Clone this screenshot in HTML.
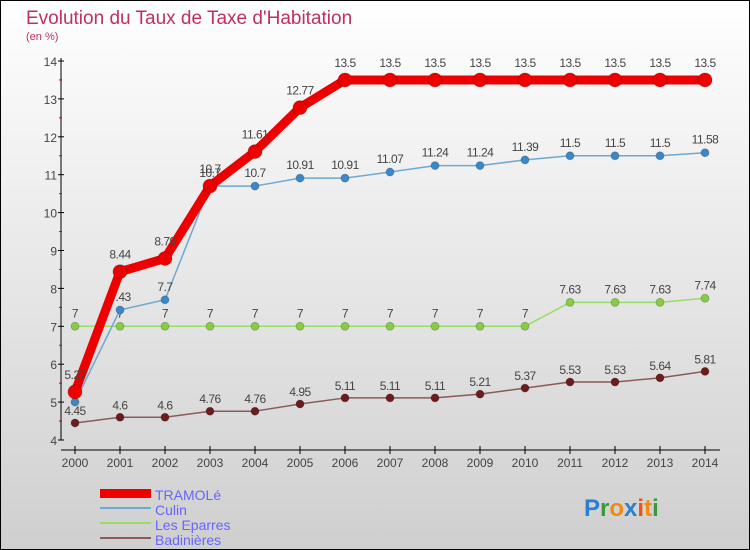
<!DOCTYPE html>
<html><head><meta charset="utf-8"><style>
body{margin:0;width:750px;height:550px;overflow:hidden}
svg{display:block}
text{font-family:"Liberation Sans",sans-serif}
</style></head><body>
<svg width="750" height="550" viewBox="0 0 750 550">
<defs><linearGradient id="bg" x1="0" y1="0" x2="0" y2="1"><stop offset="0" stop-color="#ffffff"/><stop offset="1" stop-color="#cfcfcf"/></linearGradient></defs>
<rect x="0.5" y="0.5" width="749" height="549" fill="url(#bg)" stroke="#000"/>
<text x="26" y="24" font-size="19" fill="#c0305e">Evolution du Taux de Taxe d'Habitation</text>
<text x="26" y="40" font-size="11" fill="#c0305e">(en %)</text>
<g id="axes"></g><g id="series"></g>
<g>
<rect x="100" y="489" width="51" height="9" fill="#ee0000"/>
<text x="155" y="500" font-size="14" fill="#6666ff">TRAMOLé</text>
<rect x="100" y="507" width="51" height="2" fill="#6fa8d0"/>
<text x="155" y="515" font-size="14" fill="#6666ff">Culin</text>
<rect x="100" y="522" width="51" height="2" fill="#99dd66"/>
<text x="155" y="530" font-size="14" fill="#6666ff">Les Eparres</text>
<rect x="100" y="537" width="51" height="2" fill="#8b5a5a"/>
<text x="155" y="545" font-size="14" fill="#6666ff">Badinières</text>
</g>
<text x="584" y="516" font-size="24" font-weight="bold"><tspan fill="#2a7fd0">P</tspan><tspan fill="#3a9a3a">r</tspan><tspan fill="#f08a10">o</tspan><tspan fill="#2a7fd0">x</tspan><tspan fill="#f05010">i</tspan><tspan fill="#f08a10">t</tspan><tspan fill="#3a9a3a">i</tspan></text>
</svg>
<script>
const years=[2000,2001,2002,2003,2004,2005,2006,2007,2008,2009,2010,2011,2012,2013,2014];
const tramole=[5.27,8.44,8.79,10.7,11.61,12.77,13.5,13.5,13.5,13.5,13.5,13.5,13.5,13.5,13.5];
const culin=[5,7.43,7.7,10.7,10.7,10.91,10.91,11.07,11.24,11.24,11.39,11.5,11.5,11.5,11.58];
const eparres=[7,7,7,7,7,7,7,7,7,7,7,7.63,7.63,7.63,7.74];
const badinieres=[4.45,4.6,4.6,4.76,4.76,4.95,5.11,5.11,5.11,5.21,5.37,5.53,5.53,5.64,5.81];
const yTicks=[4,5,6,7,8,9,10,11,12,13,14];
const NS='http://www.w3.org/2000/svg';
const xs=y=>75+(y-2000)*45;
const ys=v=>440-(v-4)*37.9;
function mk(t,a,p){const e=document.createElementNS(NS,t);for(const k in a)e.setAttribute(k,a[k]);p.appendChild(e);return e;}
const ax=document.getElementById('axes');
const yl=mk('line',{x1:61,y1:58,x2:61,y2:440,stroke:'#000'},ax);

const xl=mk('line',{x1:61,y1:450,x2:720,y2:450,stroke:'#000'},ax);

yTicks.forEach((v,i)=>{
 mk('line',{x1:58,y1:ys(v),x2:64,y2:ys(v),stroke:'#000'},ax);
 if(i<yTicks.length-1)mk('line',{x1:59,y1:ys(v+0.5),x2:62,y2:ys(v+0.5),stroke:'#d00'},ax);
 const t=mk('text',{x:57,y:ys(v)+5,'font-size':12,'text-anchor':'end',fill:'#444'},ax);t.textContent=v;
 
});
years.forEach(y=>{
 mk('line',{x1:xs(y),y1:446,x2:xs(y),y2:454,stroke:'#000'},ax);
 const t=mk('text',{x:xs(y),y:467,'font-size':12,'text-anchor':'middle',fill:'#444'},ax);t.textContent=y;
 
});
const sg=document.getElementById('series');
function draw(name,vals,color,dot,w,r,lbl){
 const g=mk('g',{},sg);
 
 mk('polyline',{points:vals.map((v,i)=>xs(years[i])+','+ys(v)).join(' '),fill:'none',stroke:color,'stroke-width':w,'stroke-linejoin':'round'},g);
 vals.forEach((v,i)=>{
  const c=mk('circle',{cx:xs(years[i]),cy:ys(v),r:r,fill:dot,stroke:'#0003'},g);
  
  const t=mk('text',{x:xs(years[i]),y:ys(v)-lbl,'font-size':12,'text-anchor':'middle',fill:'#444','letter-spacing':'-0.5'},g);t.textContent=v;
  
 });
}
draw('badinieres',badinieres,'#8b5a5a','#6b1c1c',1.5,4,8);
draw('eparres',eparres,'#99dd66','#88cc44',1.5,4,9);
draw('culin',culin,'#6fa8d0','#3a88c8',1.5,4,9);
draw('tramole',tramole,'#ee0000','#ee0000',9,7,13);
</script>
</body></html>
